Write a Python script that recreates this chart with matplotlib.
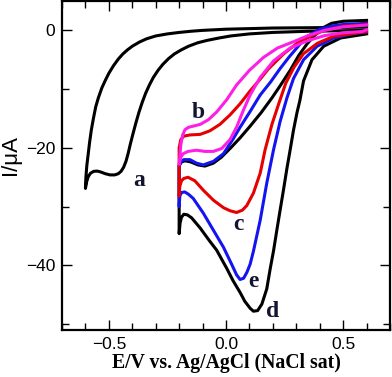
import matplotlib
matplotlib.use("Agg")
import matplotlib.pyplot as plt
from matplotlib.ticker import MultipleLocator

# === Data ===
# curve a: bare electrode, loop -0.6 .. 0.6 V
a_E = [0.6, 0.35, 0.2, 0.1, 0.0, -0.05, -0.1, -0.15, -0.2, -0.25, -0.3, -0.34, -0.37,
       -0.4, -0.42, -0.44, -0.46, -0.48, -0.5, -0.515, -0.53, -0.545, -0.556, -0.566,
       -0.575, -0.582, -0.588, -0.594, -0.598, -0.6,
       -0.595, -0.588, -0.578, -0.565, -0.55, -0.535, -0.515, -0.495, -0.475, -0.46,
       -0.448, -0.437, -0.427, -0.418, -0.408, -0.397, -0.385, -0.372, -0.358, -0.343,
       -0.327, -0.31, -0.29, -0.27, -0.245, -0.22, -0.19, -0.16, -0.12, -0.08, -0.03,
       0.02, 0.1, 0.2, 0.35, 0.6]
a_I = [0.55, 0.45, 0.4, 0.3, 0.2, 0.1, 0.0, -0.15, -0.35, -0.6, -0.95, -1.45, -2.0,
       -2.7, -3.3, -4.0, -4.9, -6.0, -7.3, -8.5, -9.8, -11.5, -13.0, -15.0,
       -17.0, -19.0, -21.0, -23.0, -25.0, -26.9,
       -25.8, -24.9, -24.3, -24.0, -23.95, -24.1, -24.4, -24.6, -24.6, -24.4,
       -24.0, -23.3, -22.3, -21.0, -19.3, -17.6, -15.8, -14.0, -12.3, -10.7,
       -9.3, -8.0, -6.8, -5.8, -4.8, -4.0, -3.3, -2.7, -2.1, -1.7, -1.3,
       -0.95, -0.6, -0.35, -0.15, 0.0]

# curve b (magenta)
b_E = [0.6, 0.5, 0.42, 0.35, 0.29, 0.22, 0.16, 0.10, 0.045, 0.003, -0.04, -0.075, -0.11,
       -0.14, -0.16, -0.175, -0.185, -0.193, -0.2,
       -0.193, -0.183, -0.162, -0.126, -0.09, -0.054, -0.018, 0.017, 0.046, 0.074, 0.103,
       0.146, 0.203, 0.274, 0.346, 0.42, 0.5, 0.58, 0.6]
b_I = [0.9, 0.6, 0.0, -0.9, -1.9, -3.0, -4.6, -6.8, -9.3, -11.8, -13.9, -15.2, -16.0,
       -16.3, -16.5, -16.9, -17.8, -19.5, -22.8,
       -21.6, -21.0, -20.6, -20.4, -20.6, -20.6, -20.1, -18.6, -16.4, -13.6, -11.0,
       -8.0, -5.2, -3.0, -1.8, -0.9, -0.4, -0.2, 0.1]

# curve c (red)
c_E = [0.6, 0.5, 0.42, 0.36, 0.303, 0.246, 0.18, 0.146, 0.103, 0.06, 0.017, -0.026, -0.069,
       -0.11, -0.154, -0.18, -0.193, -0.2, -0.2,
       -0.197, -0.19, -0.18, -0.162, -0.133, -0.097, -0.054, -0.01, 0.017, 0.045, 0.07,
       0.089, 0.117, 0.146, 0.167, 0.196, 0.225, 0.255, 0.29, 0.33, 0.39, 0.46, 0.6]
c_I = [1.0, 0.7, 0.0, -1.0, -2.2, -4.0, -6.6, -8.3, -10.3, -12.5, -14.4, -16.0, -17.1,
       -17.7, -17.8, -18.0, -18.6, -20.0, -28.2,
       -26.5, -25.6, -25.2, -25.0, -25.6, -27.2, -28.9, -30.2, -30.7, -31.0, -30.6,
       -29.8, -27.7, -24.3, -20.3, -16.0, -12.5, -9.0, -6.3, -4.0, -2.2, -1.0, -0.2]

# curve e (blue)
e_E = [0.6, 0.5, 0.46, 0.40, 0.35, 0.317, 0.27, 0.231, 0.19, 0.146, 0.103, 0.06, 0.03,
       -0.011, -0.054, -0.097, -0.126, -0.154, -0.18, -0.19, -0.2, -0.2,
       -0.197, -0.19, -0.176, -0.16, -0.14, -0.097, -0.054, -0.011, 0.024, 0.045, 0.06,
       0.075, 0.089, 0.103, 0.117, 0.146, 0.174, 0.203, 0.231, 0.26, 0.288, 0.331, 0.389,
       0.46, 0.546, 0.6]
e_I = [1.2, 1.0, 0.8, 0.2, -1.0, -2.3, -4.5, -6.5, -8.8, -11.0, -13.8, -16.5, -18.5,
       -21.0, -22.3, -22.9, -22.6, -22.0, -22.0, -22.3, -23.0, -30.0,
       -28.2, -27.6, -27.5, -27.9, -28.6, -31.1, -34.0, -36.9, -39.8, -41.6, -42.4,
       -42.2, -41.2, -39.8, -37.6, -32.3, -26.0, -20.3, -15.5, -11.5, -8.2, -5.0, -2.7,
       -1.3, -0.5, -0.3]

# curve d (black)
d_E = [0.6, 0.5, 0.45, 0.417, 0.38, 0.346, 0.31, 0.274, 0.23, 0.196, 0.15, 0.103, 0.06,
       0.02, -0.02, -0.054, -0.09, -0.12, -0.15, -0.175, -0.19, -0.2, -0.2,
       -0.196, -0.19, -0.18, -0.165, -0.147, -0.111, -0.069, -0.04, 0.003, 0.03, 0.06,
       0.08, 0.103, 0.117, 0.135, 0.153, 0.174, 0.189, 0.203, 0.217, 0.231, 0.246, 0.26,
       0.274, 0.288, 0.303, 0.315, 0.331, 0.367, 0.417, 0.489, 0.6]
d_I = [1.7, 1.55, 1.2, 0.5, -0.8, -2.3, -4.3, -6.8, -9.5, -11.5, -14.0, -16.3, -18.3,
       -20.0, -21.6, -22.6, -23.1, -22.9, -22.4, -22.2, -22.4, -23.0, -34.6,
       -32.8, -31.8, -31.3, -31.4, -31.9, -33.6, -35.9, -37.4, -40.5, -42.6, -44.6,
       -46.1, -47.3, -47.8, -47.7, -46.6, -44.0, -40.5, -37.5, -34.0, -30.6, -27.0, -23.5,
       -20.3, -17.0, -14.0, -12.0, -8.6, -5.0, -2.7, -1.3, -0.6]

labels = ['a', 'b', 'c', 'e', 'd']
label_E = [-0.369, -0.12, 0.051, 0.116, 0.20]
label_I = [-25.6, -14.0, -33.1, -42.8, -47.9]

# === Plot ===
fig = plt.figure(figsize=(3.92, 3.77), dpi=100)
ax = fig.add_axes([62 / 392, 47 / 377, 328 / 392, 329 / 377])

lw = 2.2
ax.plot(a_E, a_I, color='black', lw=lw, solid_joinstyle='round')
ax.plot(d_E, d_I, color='black', lw=lw, solid_joinstyle='round')
ax.plot(e_E, e_I, color='#1414f0', lw=lw, solid_joinstyle='round')
ax.plot(c_E, c_I, color='#e60000', lw=lw, solid_joinstyle='round')
ax.plot(b_E, b_I, color='#ff1ee6', lw=lw, solid_joinstyle='round')

for lab, x, y in zip(labels, label_E, label_I):
    ax.text(x, y, lab, ha='center', va='center', fontsize=17, fontweight='bold',
            family='Liberation Serif', color='#141432')

ax.set_xlim(-0.7, 0.7)
ax.set_ylim(-51, 5)
ax.xaxis.set_major_locator(MultipleLocator(0.5))
ax.xaxis.set_minor_locator(MultipleLocator(0.1))
ax.yaxis.set_major_locator(MultipleLocator(20))
ax.yaxis.set_minor_locator(MultipleLocator(10))
ax.tick_params(which='both', direction='in', top=True, right=True, width=1.0)
ax.tick_params(which='major', length=7, labelsize=12.5, pad=5)
ax.tick_params(which='minor', length=5)
for lbl in ax.get_xticklabels() + ax.get_yticklabels():
    lbl.set_family('Liberation Sans')
for s in ax.spines.values():
    s.set_linewidth(1.6)

ax.set_xlabel('E/V vs. Ag/AgCl (NaCl sat)', fontsize=14.2, fontweight='bold',
              family='Liberation Serif')
ax.set_ylabel('I/\u03bcA', fontsize=16, family='Liberation Sans')
ax.xaxis.set_label_coords(0.5, -0.069)
ax.xaxis.label.set_va('top')
ax.yaxis.label.set_va('center')
ax.yaxis.set_label_coords(-0.158, 0.532)

fig.savefig('out.png', dpi=100)
